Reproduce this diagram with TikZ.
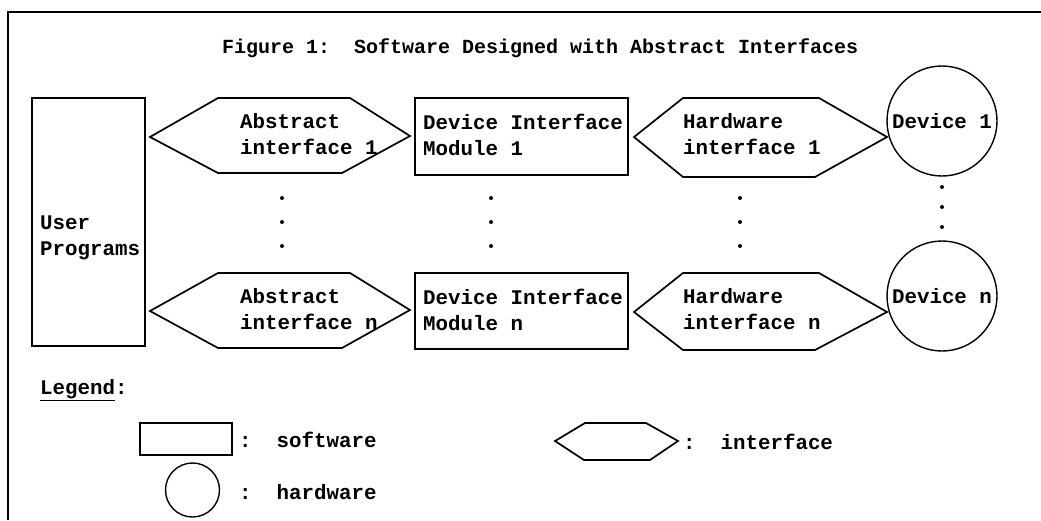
\documentclass[tikz,border=0pt]{standalone}
\usepackage{fontspec}
\setmonofont{Liberation Mono}
\begin{document}
\begin{tikzpicture}[x=1pt,y=-1pt,
  ln/.style={line width=1.7pt, line join=miter},
  box/.style={draw, line width=1.7pt, inner sep=0pt, rectangle},
  dev/.style={draw, line width=1.4pt, circle, inner sep=0pt, minimum size=110pt, font=\ttfamily\bfseries\fontsize{20.8}{26}\selectfont},
  txt/.style={font=\ttfamily\bfseries\fontsize{20.8}{26}\selectfont, align=left, inner sep=0pt, anchor=west},
  dot/.style={circle, fill=black, inner sep=0pt, minimum size=4pt}]
\useasboundingbox (0,0) rectangle (1041,520);
% frame
\draw[line width=2pt] (1041,12) -- (8,12) -- (8,520);
% title
\node[txt, font=\ttfamily\bfseries\fontsize{20}{26}\selectfont] (title) at (222,48) {Figure 1:\ \ Software Designed with Abstract Interfaces};
% user programs
\node[box, minimum width=113pt, minimum height=248pt] (user) at (88.5,222) {};
\node[txt] (usertxt) at (40,237.5) {User\\Programs};
% abstract interfaces
\draw[ln] (150,137) -- (218,98) -- (350,98) -- (410,136) -- (342,173) -- (218,173) -- cycle;
\node[txt] (ai1) at (240,134.5) {Abstract\\interface 1};
\draw[ln] (150,311) -- (218,273) -- (350,273) -- (410,310) -- (342,348) -- (218,348) -- cycle;
\node[txt] (ain) at (240,309.5) {Abstract\\interface n};
% device interface modules
\node[box, minimum width=213pt, minimum height=77pt] (dim1) at (521.5,136.5) {};
\node[txt] (dim1t) at (423,134.5) {Device Interface\\Module 1};
\node[box, minimum width=213pt, minimum height=76pt] (dimn) at (521.5,311) {};
\node[txt] (dimnt) at (423,309.5) {Device Interface\\Module n};
% hardware interfaces
\draw[ln] (634,137) -- (683,98) -- (819,98) -- (887,137) -- (815,177) -- (683,177) -- cycle;
\node[txt] (hi1) at (683,134.5) {Hardware\\interface 1};
\draw[ln] (634,312) -- (683,273) -- (819,273) -- (887,312) -- (815,350) -- (683,350) -- cycle;
\node[txt] (hin) at (683,309.5) {Hardware\\interface n};
% devices
\node[dev] (d1) at (942,121) {Device 1};
\node[dev] (dn) at (942,296) {Device n};
% dots
\foreach \x in {282,491,740} {
  \node[dot] at (\x,198) {};
  \node[dot] at (\x,222) {};
  \node[dot] at (\x,246) {};
}
\node[dot] (dd1) at (942,187) {};
\node[dot] (dd2) at (942,207) {};
\node[dot] (dd3) at (942,227) {};
% legend
\node[txt] (leg) at (40,390) {\underline{Legend}:};
\node[box, minimum width=92pt, minimum height=32pt] (lsw) at (186,439) {};
\node[txt] (lswt) at (239,440) {:\ \ software};
\node[draw, line width=1.4pt, circle, minimum size=54pt, inner sep=0pt] (lhw) at (192.5,490) {};
\node[txt] (lhwt) at (239,492) {:\ \ hardware};
\draw[ln] (555,441) -- (585,423) -- (646,423) -- (678,441) -- (650,460) -- (584,460) -- cycle;
\node[txt] (lift) at (683,442) {:\ \ interface};
\end{tikzpicture}
\end{document}
